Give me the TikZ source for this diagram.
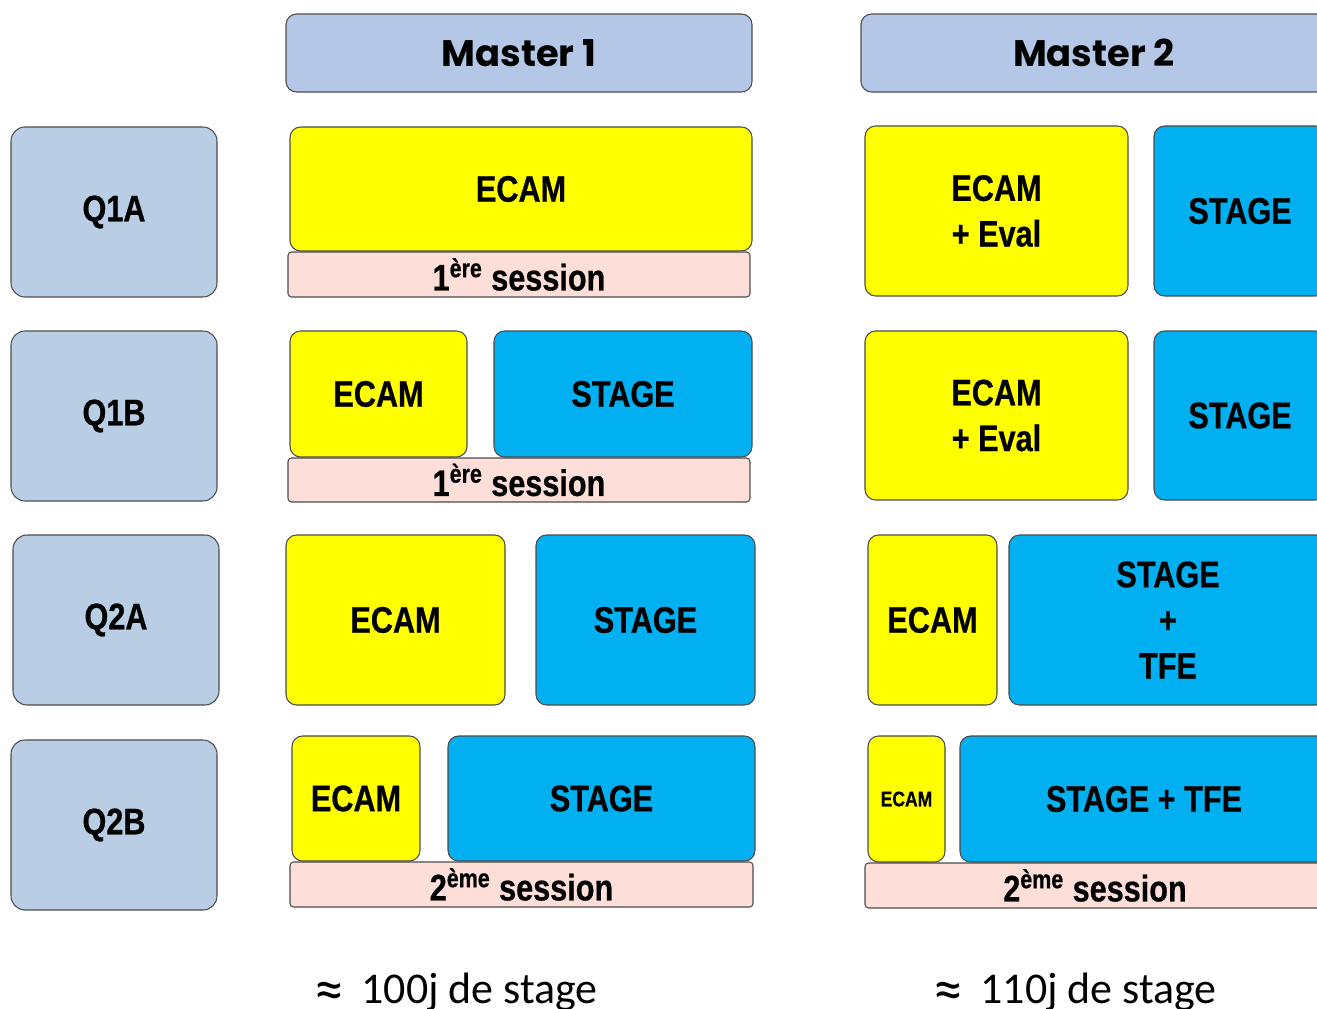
\documentclass[tikz,border=0pt]{standalone}
\usepackage{fontspec}
\setmainfont{Liberation Sans}
\newfontfamily\boxfont{Liberation Sans}[FakeStretch=0.83, BoldFeatures={FakeBold=0.6}]
\newfontfamily\headfont{Poppins}
\newfontfamily\notefont{Carlito}
\definecolor{quarterblue}{HTML}{B9CDE5}
\definecolor{headblue}{HTML}{B4C7E7}
\definecolor{ecamyellow}{HTML}{FFFF00}
\definecolor{stageblue}{HTML}{00B0F0}
\definecolor{sessionpink}{HTML}{FDDED8}

\begin{document}
\begin{tikzpicture}[
    box/.style={rectangle, draw=black!70, line width=0.6pt, inner sep=0pt, outer sep=0pt, anchor=north west, align=center, font=\boxfont\bfseries\fontsize{21}{26}\selectfont},
    quarter/.style={box, fill=quarterblue, rounded corners=8pt, minimum width=4.12cm, minimum height=3.4cm},
    master/.style={box, fill=headblue, rounded corners=6pt, minimum width=9.32cm, minimum height=1.56cm, font=\headfont\bfseries\fontsize{21}{26}\selectfont},
    ecam/.style={box, fill=ecamyellow, rounded corners=6pt},
    stage/.style={box, fill=stageblue, rounded corners=6pt},
    session/.style={box, fill=sessionpink, rounded corners=2pt, minimum width=9.24cm, minimum height=0.9cm},
    note/.style={anchor=base, inner sep=0pt, font=\notefont\fontsize{25}{28}\selectfont}]

  \useasboundingbox (0,0) rectangle (26.34,-20.18);
  \clip (0,0) rectangle (26.34,-20.18);

  \node[master] (master1) at (5.72,-0.28) {Master 1};
  \node[master] (master2) at (17.22,-0.28) {Master 2};

  \node[quarter] (q1a) at (0.22,-2.54) {Q1A};
  \node[quarter] (q1b) at (0.22,-6.62) {Q1B};
  \node[quarter] (q2a) at (0.26,-10.70) {Q2A};
  \node[quarter] (q2b) at (0.22,-14.80) {Q2B};

  \node[ecam, minimum width=9.24cm, minimum height=2.48cm] (ecam1a) at (5.80,-2.54) {ECAM};
  \node[session] (session1a) at (5.76,-5.04) {1\textsuperscript{ère} session};

  \node[ecam, minimum width=3.54cm, minimum height=2.52cm] (ecam1b) at (5.80,-6.62) {ECAM};
  \node[stage, minimum width=5.16cm, minimum height=2.52cm] (stage1b) at (9.88,-6.62) {STAGE};
  \node[session, minimum height=0.88cm] (session1b) at (5.76,-9.16) {1\textsuperscript{ère} session};

  \node[ecam, minimum width=4.38cm, minimum height=3.4cm] (ecam2a) at (5.72,-10.70) {ECAM};
  \node[stage, minimum width=4.38cm, minimum height=3.4cm] (stage2a) at (10.72,-10.70) {STAGE};

  \node[ecam, minimum width=2.56cm, minimum height=2.5cm] (ecam2b) at (5.84,-14.72) {ECAM};
  \node[stage, minimum width=6.14cm, minimum height=2.5cm] (stage2b) at (8.96,-14.72) {STAGE};
  \node[session, minimum width=9.26cm] (session2b) at (5.80,-17.24) {2\textsuperscript{ème} session};

  \node[ecam, minimum width=5.26cm, minimum height=3.4cm] (eval1a) at (17.30,-2.52) {ECAM\\+ Eval};
  \node[stage, minimum width=3.44cm, minimum height=3.4cm] (stagem1a) at (23.08,-2.52) {STAGE};

  \node[ecam, minimum width=5.26cm, minimum height=3.38cm] (eval1b) at (17.30,-6.62) {ECAM\\+ Eval};
  \node[stage, minimum width=3.44cm, minimum height=3.38cm] (stagem1b) at (23.08,-6.62) {STAGE};

  \node[ecam, minimum width=2.58cm, minimum height=3.4cm] (ecamm2a) at (17.36,-10.70) {ECAM};
  \node[stage, minimum width=6.36cm, minimum height=3.4cm] (tfe2a) at (20.18,-10.70) {STAGE\\+\\TFE};

  \node[ecam, minimum width=1.54cm, minimum height=2.52cm, font=\boxfont\bfseries\fontsize{12}{14}\selectfont] (ecamm2b) at (17.36,-14.72) {ECAM};
  \node[stage, minimum width=7.36cm, minimum height=2.52cm] (tfe2b) at (19.20,-14.72) {STAGE + TFE};
  \node[session, minimum width=9.20cm] (sessionm2b) at (17.30,-17.26) {2\textsuperscript{ème} session};

  \node[note] (days1) at (9.12,-20.06) {\raisebox{-0.15em}{\fontsize{34}{34}\selectfont ≈}\hspace{0.4em}100j de stage};
  \node[note] (days2) at (21.50,-20.06) {\raisebox{-0.15em}{\fontsize{34}{34}\selectfont ≈}\hspace{0.4em}110j de stage};

\end{tikzpicture}
\end{document}
